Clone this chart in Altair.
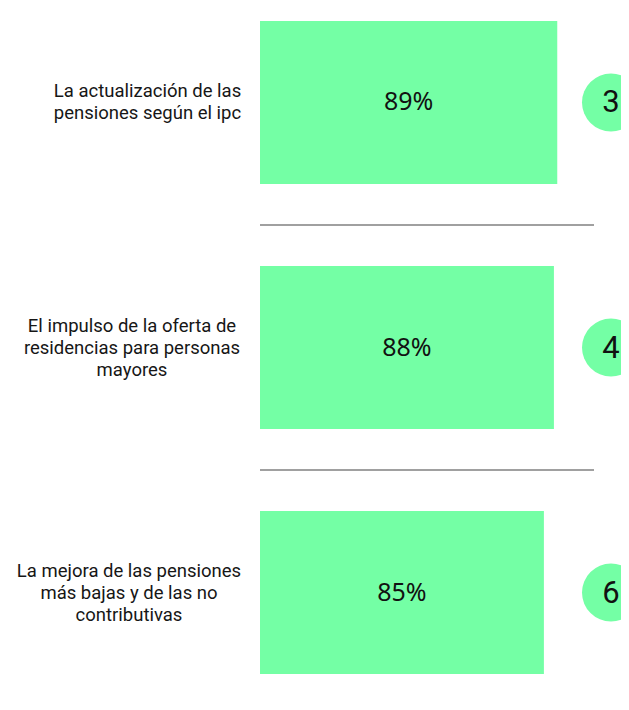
import altair as alt
import pandas as pd

# Data
labels = [
    "La actualización de las\npensiones según el ipc",
    "El impulso de la oferta de\nresidencias para personas\nmayores",
    "La mejora de las pensiones\nmás bajas y de las no\ncontributivas",
]
values = [89, 88, 85]
ranks = ["3", "4", "6"]

# layout constants (pixel centres of the left label blocks)
label_center_x = [139.5, 124, 121]
LINE_H = 22

GREEN = "#74FFA5"
df = pd.DataFrame({
    "label": labels,
    "value": values,
    "rank": ranks,
    "pct": [f"{v}%" for v in values],
})
df["half"] = df["value"] / 2
df["order"] = range(len(df))
df["x0"] = 0
df["x1"] = 100

y_enc = alt.Y("order:O", axis=None,
              scale=alt.Scale(paddingInner=0.335, paddingOuter=0.053))
x_scale = alt.Scale(domain=[0, 100], range=[252, 586])

base = alt.Chart(df)

bars = base.mark_bar(color=GREEN).encode(
    x=alt.X("value:Q", scale=x_scale, axis=None),
    y=y_enc,
)

pct = base.mark_text(font="Noto Sans", fontSize=25, color="#111111",
                     baseline="middle", align="center").encode(
    x=alt.X("half:Q", scale=x_scale, axis=None),
    y=y_enc,
    text="pct:N",
)

rules = base.transform_filter("datum.order > 0").mark_rule(
    color="#a0a0a0", strokeWidth=2, yOffset=-122.5).encode(
    x=alt.X("x0:Q", scale=x_scale, axis=None),
    x2="x1:Q",
    y=y_enc,
)

circles = base.mark_circle(color=GREEN, opacity=1, size=3364).encode(
    x=alt.value(603),
    y=y_enc,
)

rank_text = base.mark_text(font="Roboto", fontSize=31, color="#111111",
                           baseline="middle", align="center", dy=1).encode(
    x=alt.value(603),
    y=y_enc,
    text="rank:N",
)

label_layers = []
for i, cx in enumerate(label_center_x):
    n_lines = labels[i].count("\n") + 1
    label_layers.append(
        base.transform_filter(f"datum.order == {i}").mark_text(
            font="Roboto", fontSize=18.5, color="#161616", lineBreak="\n",
            lineHeight=LINE_H, align="center", baseline="middle",
            dy=-(n_lines - 1) * LINE_H / 2).encode(
            x=alt.value(cx),
            y=y_enc,
            text="label:N",
        )
    )

chart = alt.layer(bars, rules, pct, circles, rank_text, *label_layers).properties(
    width=613, height=679, padding=0,
    autosize=alt.AutoSizeParams(type="none"),
).configure_view(stroke=None)

chart.save("out.html", embed_options={"renderer": "svg", "actions": False})
